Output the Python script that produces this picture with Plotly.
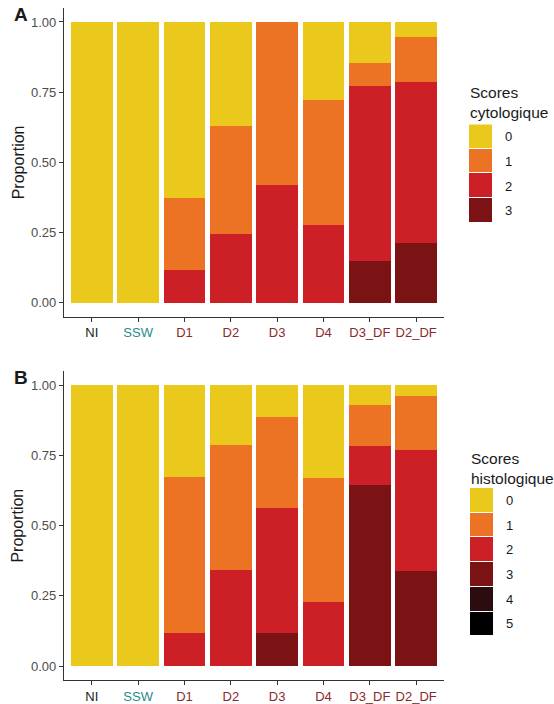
import plotly.graph_objects as go

# ---------------- data ----------------
categories = ["NI", "SSW", "D1", "D2", "D3", "D4", "D3_DF", "D2_DF"]
category_colors = ["#1a1a1a", "#1f8c8c", "#8b2a2a", "#8b2a2a", "#8b2a2a", "#8b2a2a", "#8b2a2a", "#8b2a2a"]

# Panel A : cytological scores (proportions)
cyto_0 = [1.0, 1.0, 0.628, 0.371, 0.000, 0.277, 0.147, 0.054]
cyto_1 = [0.0, 0.0, 0.255, 0.386, 0.579, 0.445, 0.082, 0.158]
cyto_2 = [0.0, 0.0, 0.117, 0.243, 0.421, 0.278, 0.622, 0.575]
cyto_3 = [0.0, 0.0, 0.000, 0.000, 0.000, 0.000, 0.149, 0.213]

# Panel B : histological scores (proportions)
histo_0 = [1.0, 1.0, 0.327, 0.215, 0.112, 0.330, 0.071, 0.039]
histo_1 = [0.0, 0.0, 0.557, 0.443, 0.327, 0.442, 0.145, 0.193]
histo_2 = [0.0, 0.0, 0.116, 0.342, 0.443, 0.228, 0.140, 0.428]
histo_3 = [0.0, 0.0, 0.000, 0.000, 0.118, 0.000, 0.644, 0.340]
histo_4 = [0.0, 0.0, 0.000, 0.000, 0.000, 0.000, 0.000, 0.000]
histo_5 = [0.0, 0.0, 0.000, 0.000, 0.000, 0.000, 0.000, 0.000]

score_labels_cyto = ["0", "1", "2", "3"]
score_labels_histo = ["0", "1", "2", "3", "4", "5"]
score_colors = ["#eac81c", "#ec7323", "#cc1f26", "#7b1214", "#2c0d0f", "#000000"]

y_ticks = [0, 0.25, 0.5, 0.75, 1.0]
y_ticktext = ["0.00", "0.25", "0.50", "0.75", "1.00"]

cyto = [cyto_0, cyto_1, cyto_2, cyto_3]
histo = [histo_0, histo_1, histo_2, histo_3, histo_4, histo_5]

W, H = 554, 704
FONT = "Liberation Sans, Arial, Helvetica, sans-serif"


def px_x(p):
    return p / W


def px_y(p):
    return 1 - p / H


fig = go.Figure()

# main stacked bars : highest score at the bottom
for lvl in reversed(range(len(cyto))):
    fig.add_trace(go.Bar(x=categories, y=cyto[lvl], marker=dict(color=score_colors[lvl], line=dict(width=0)),
                         width=0.9, xaxis="x", yaxis="y", showlegend=False))
for lvl in reversed(range(len(histo))):
    fig.add_trace(go.Bar(x=categories, y=histo[lvl], marker=dict(color=score_colors[lvl], line=dict(width=0)),
                         width=0.9, xaxis="x2", yaxis="y2", showlegend=False))

# legend keys drawn as stacked unit bars in their own small axes
for i, lab in enumerate(score_labels_cyto):
    fig.add_trace(go.Bar(x=[0], y=[1], base=[i], width=1,
                         marker=dict(color=score_colors[i], line=dict(color="white", width=1)),
                         xaxis="x3", yaxis="y3", showlegend=False, hoverinfo="skip"))
for i, lab in enumerate(score_labels_histo):
    fig.add_trace(go.Bar(x=[0], y=[1], base=[i], width=1,
                         marker=dict(color=score_colors[i], line=dict(color="white", width=1)),
                         xaxis="x4", yaxis="y4", showlegend=False, hoverinfo="skip"))

ticktext = [f'<span style="color:{c}">{t}</span>' for t, c in zip(categories, category_colors)]

xaxis_common = dict(
    type="category", range=[-0.6, len(categories) - 0.4],
    tickmode="array", tickvals=categories, ticktext=ticktext,
    showline=True, linecolor="#333333", linewidth=1.1,
    ticks="outside", ticklen=4, tickwidth=1.1, tickcolor="#333333",
    tickfont=dict(family=FONT, size=13, color="#4d4d4d"),
    showgrid=False, zeroline=False, fixedrange=True,
)
yaxis_common = dict(
    range=[-0.05, 1.05], tickmode="array", tickvals=y_ticks, ticktext=y_ticktext,
    showline=True, linecolor="#333333", linewidth=1.1,
    ticks="outside", ticklen=4, tickwidth=1.1, tickcolor="#333333",
    tickfont=dict(family=FONT, size=13, color="#4d4d4d"),
    showgrid=False, zeroline=False, fixedrange=True,
)

hidden = dict(visible=False, showgrid=False, zeroline=False, fixedrange=True)

fig.update_layout(
    width=W, height=H,
    margin=dict(l=0, r=0, t=0, b=0),
    paper_bgcolor="white", plot_bgcolor="white",
    barmode="stack", bargap=0,
    font=dict(family=FONT, color="#1a1a1a"),
    xaxis=dict(**xaxis_common, domain=[px_x(64), px_x(444)], anchor="y"),
    yaxis=dict(**yaxis_common, domain=[px_y(318), px_y(8)], anchor="x"),
    xaxis2=dict(**xaxis_common, domain=[px_x(64), px_x(444)], anchor="y2"),
    yaxis2=dict(**yaxis_common, domain=[px_y(683), px_y(372.6)], anchor="x2"),
    xaxis3=dict(**hidden, range=[-0.5, 0.5], domain=[px_x(469), px_x(493)], anchor="y3"),
    yaxis3=dict(**hidden, range=[len(score_labels_cyto), 0], domain=[px_y(224), px_y(125)], anchor="x3"),
    xaxis4=dict(**hidden, range=[-0.5, 0.5], domain=[px_x(470), px_x(494)], anchor="y4"),
    yaxis4=dict(**hidden, range=[len(score_labels_histo), 0], domain=[px_y(639), px_y(490)], anchor="x4"),
)

ann = []
# y axis titles
for yc in [(8 + 318) / 2, (372.6 + 683) / 2]:
    ann.append(dict(text="Proportion", x=px_x(18), y=px_y(yc), xref="paper", yref="paper",
                    textangle=-90, showarrow=False, xanchor="center", yanchor="middle",
                    font=dict(family=FONT, size=16, color="#1a1a1a")))
# panel letters
ann.append(dict(text="<b>A</b>", x=px_x(12), y=px_y(14.5), xref="paper", yref="paper", showarrow=False,
                xanchor="left", yanchor="middle", font=dict(family=FONT, size=19, color="#1a1a1a")))
ann.append(dict(text="<b>B</b>", x=px_x(12), y=px_y(379.5), xref="paper", yref="paper", showarrow=False,
                xanchor="left", yanchor="middle", font=dict(family=FONT, size=19, color="#1a1a1a")))
# legend titles
ann.append(dict(text="Scores<br>cytologique", x=px_x(468), y=px_y(102.7), xref="paper", yref="paper",
                showarrow=False, xanchor="left", yanchor="middle", align="left",
                font=dict(family=FONT, size=15.5, color="#1a1a1a")))
ann.append(dict(text="Scores<br>histologique", x=px_x(469), y=px_y(470.3), xref="paper", yref="paper",
                showarrow=False, xanchor="left", yanchor="middle", align="left",
                font=dict(family=FONT, size=15.5, color="#1a1a1a")))
# legend labels
for i, lab in enumerate(score_labels_cyto):
    ann.append(dict(text=lab, x=px_x(503), y=i + 0.5, xref="paper", yref="y3", showarrow=False,
                    xanchor="left", yanchor="middle", font=dict(family=FONT, size=13, color="#1a1a1a")))
for i, lab in enumerate(score_labels_histo):
    ann.append(dict(text=lab, x=px_x(504), y=i + 0.5, xref="paper", yref="y4", showarrow=False,
                    xanchor="left", yanchor="middle", font=dict(family=FONT, size=13, color="#1a1a1a")))

fig.update_layout(annotations=ann)

# remove the default page margin so the figure sits at the window's top-left corner
fig.write_html("out.html",
               config={"displayModeBar": False},
               post_script="document.body.style.margin='0';document.body.style.overflow='hidden';")
